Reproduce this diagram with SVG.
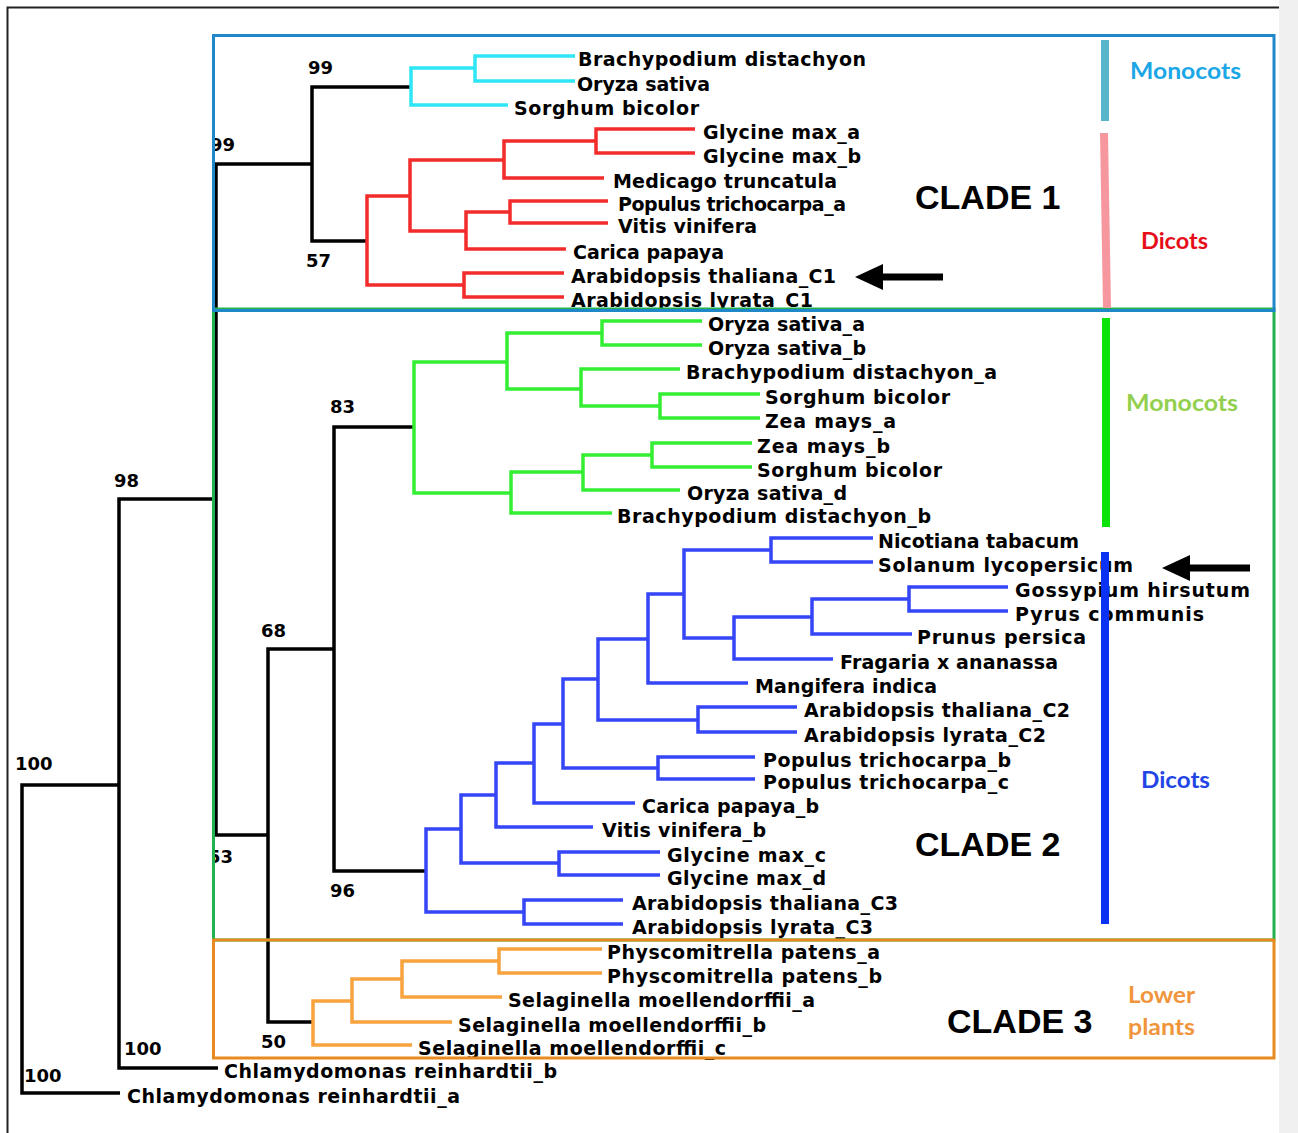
<svg xmlns="http://www.w3.org/2000/svg" width="1298" height="1133" viewBox="0 0 1298 1133">
<style>
.t{font-family:"DejaVu Sans","Liberation Sans",sans-serif;font-weight:bold;font-size:19px;fill:#000}
.bs{font-family:"DejaVu Sans","Liberation Sans",sans-serif;font-weight:bold;font-size:18px;fill:#000}
.cl{font-family:"Liberation Sans",Arial,sans-serif;font-weight:bold;font-size:34px;fill:#000}
.gp{font-family:Lato,"Open Sans",sans-serif;font-weight:bold;font-size:23px}
.br{fill:none;stroke-width:3.5;stroke-linejoin:miter;stroke-linecap:butt}
.k{stroke:#000}.c{stroke:#2EE6F5}.r{stroke:#F22B2B}.g{stroke:#33EE33}.b{stroke:#3546F7}.o{stroke:#F8A33E}
.box{fill:none;stroke-width:3}
.bar{fill:none;stroke-width:8}
</style>
<defs>
<clipPath id="clipBox"><rect x="215" y="0" width="200" height="1133"/></clipPath>
</defs>
<rect x="0" y="0" width="1298" height="1133" fill="#fff"/>
<rect x="1279" y="0" width="19" height="1133" fill="#F0F0F0"/>
<path d="M1279,7.5 H7.5 V1133" fill="none" stroke="#222" stroke-width="2"/>

<g id="connectors">
<g id="black-branches">
<path class="br k" d="M119,785 H22 V1093 H120"/>
<path class="br k" d="M216,499 H119 V1068 H218"/>
<path class="br k" d="M312,164 H216 V835 H268"/>
<path class="br k" d="M411,87 H312 V241 H367"/>
<path class="br k" d="M334,649 H268 V1022 H313"/>
<path class="br k" d="M414,427 H334 V871 H426"/>
</g>
<g id="cyan-branches">
<path class="br c" d="M475,68 H411 V105 H508"/>
<path class="br c" d="M575,56 H475 V81 H575"/>
</g>
<g id="red-branches">
<path class="br r" d="M410,196 H367 V285 H464"/>
<path class="br r" d="M504,160 H410 V231 H466"/>
<path class="br r" d="M596,141 H504 V178 H604"/>
<path class="br r" d="M695,129 H596 V153 H695"/>
<path class="br r" d="M510,212 H466 V249 H566"/>
<path class="br r" d="M608,201 H510 V223 H608"/>
<path class="br r" d="M564,273 H464 V297 H564"/>
</g>
<g id="green-branches">
<path class="br g" d="M507,362 H414 V493 H511"/>
<path class="br g" d="M602,333 H507 V389 H581"/>
<path class="br g" d="M702,321 H602 V345 H702"/>
<path class="br g" d="M680,369 H581 V406 H660"/>
<path class="br g" d="M760,394 H660 V418 H760"/>
<path class="br g" d="M583,472 H511 V513 H612"/>
<path class="br g" d="M652,455 H583 V490 H680"/>
<path class="br g" d="M752,443 H652 V467 H752"/>
</g>
<g id="blue-branches">
<path class="br b" d="M461,829 H426 V912 H524"/>
<path class="br b" d="M496,795 H461 V863 H559"/>
<path class="br b" d="M534,763 H496 V827 H593"/>
<path class="br b" d="M563,724 H534 V803 H635"/>
<path class="br b" d="M598,679 H563 V768 H658"/>
<path class="br b" d="M648,639 H598 V720 H698"/>
<path class="br b" d="M684,594 H648 V683 H748"/>
<path class="br b" d="M771,550 H684 V638 H734"/>
<path class="br b" d="M873,538 H771 V562 H873"/>
<path class="br b" d="M812,617 H734 V659 H833"/>
<path class="br b" d="M909,599 H812 V634 H912"/>
<path class="br b" d="M1008,587 H909 V611 H1008"/>
<path class="br b" d="M797,707 H698 V732 H797"/>
<path class="br b" d="M755,757 H658 V779 H755"/>
<path class="br b" d="M660,852 H559 V875 H660"/>
<path class="br b" d="M623,900 H524 V924 H623"/>
</g>
<g id="orange-branches">
<path class="br o" d="M352,1001 H313 V1045 H412"/>
<path class="br o" d="M402,979 H352 V1022 H452"/>
<path class="br o" d="M499,961 H402 V997 H502"/>
<path class="br o" d="M602,949 H499 V973 H602"/>
</g>
</g>

<g id="bootstrap">
<text class="bs" x="308" y="74">99</text>
<text class="bs" x="210" y="151" clip-path="url(#clipBox)">99</text>
<text class="bs" x="306" y="267">57</text>
<text class="bs" x="114" y="487">98</text>
<text class="bs" x="330" y="413">83</text>
<text class="bs" x="261" y="637">68</text>
<text class="bs" x="208" y="863" clip-path="url(#clipBox)">53</text>
<text class="bs" x="330" y="897">96</text>
<text class="bs" x="15" y="770">100</text>
<text class="bs" x="261" y="1048">50</text>
<text class="bs" x="124" y="1055">100</text>
<text class="bs" x="24" y="1082">100</text>
</g>

<g id="leaves">
<g id="n-bd1"><text class="t" x="578" y="66" textLength="288" lengthAdjust="spacing">Brachypodium distachyon</text></g>
<g id="n-os1"><text class="t" x="577" y="91" textLength="133" lengthAdjust="spacing">Oryza sativa</text></g>
<g id="n-sb1"><text class="t" x="514" y="115" textLength="185" lengthAdjust="spacing">Sorghum bicolor</text></g>
<g id="n-gma"><text class="t" x="703" y="139" textLength="157" lengthAdjust="spacing">Glycine max_a</text></g>
<g id="n-gmb"><text class="t" x="703" y="163" textLength="158" lengthAdjust="spacing">Glycine max_b</text></g>
<g id="n-med"><text class="t" x="613" y="188" textLength="224" lengthAdjust="spacing">Medicago truncatula</text></g>
<g id="n-pta"><text class="t" x="618" y="211" textLength="228" lengthAdjust="spacing">Populus trichocarpa_a</text></g>
<g id="n-vv"><text class="t" x="618" y="233" textLength="139" lengthAdjust="spacing">Vitis vinifera</text></g>
<g id="n-cp"><text class="t" x="573" y="259" textLength="151" lengthAdjust="spacing">Carica papaya</text></g>
<g id="n-atc1"><text class="t" x="571" y="283" textLength="265" lengthAdjust="spacing">Arabidopsis thaliana_C1</text></g>
<g id="n-alc1"><text class="t" x="571" y="307" textLength="242" lengthAdjust="spacing">Arabidopsis lyrata_C1</text></g>

<g id="n-osa"><text class="t" x="708" y="331" textLength="157" lengthAdjust="spacing">Oryza sativa_a</text></g>
<g id="n-osb"><text class="t" x="708" y="355" textLength="158" lengthAdjust="spacing">Oryza sativa_b</text></g>
<g id="n-bda"><text class="t" x="686" y="379" textLength="311" lengthAdjust="spacing">Brachypodium distachyon_a</text></g>
<g id="n-sb2"><text class="t" x="765" y="404" textLength="185" lengthAdjust="spacing">Sorghum bicolor</text></g>
<g id="n-zma"><text class="t" x="765" y="428" textLength="131" lengthAdjust="spacing">Zea mays_a</text></g>
<g id="n-zmb"><text class="t" x="757" y="453" textLength="133" lengthAdjust="spacing">Zea mays_b</text></g>
<g id="n-sb3"><text class="t" x="757" y="477" textLength="185" lengthAdjust="spacing">Sorghum bicolor</text></g>
<g id="n-osd"><text class="t" x="687" y="500" textLength="160" lengthAdjust="spacing">Oryza sativa_d</text></g>
<g id="n-bdb"><text class="t" x="617" y="523" textLength="314" lengthAdjust="spacing">Brachypodium distachyon_b</text></g>

<g id="n-nt"><text class="t" x="878" y="548" textLength="201" lengthAdjust="spacing">Nicotiana tabacum</text></g>
<g id="n-sl"><text class="t" x="878" y="572" textLength="255" lengthAdjust="spacing">Solanum lycopersicum</text></g>
<g id="n-gh"><text class="t" x="1015" y="597" textLength="235" lengthAdjust="spacing">Gossypium hirsutum</text></g>
<g id="n-pc"><text class="t" x="1015" y="621" textLength="189" lengthAdjust="spacing">Pyrus communis</text></g>
<g id="n-pp"><text class="t" x="917" y="644" textLength="169" lengthAdjust="spacing">Prunus persica</text></g>
<g id="n-fa"><text class="t" x="840" y="669" textLength="218" lengthAdjust="spacing">Fragaria x ananassa</text></g>
<g id="n-mi"><text class="t" x="755" y="693" textLength="182" lengthAdjust="spacing">Mangifera indica</text></g>
<g id="n-atc2"><text class="t" x="804" y="717" textLength="266" lengthAdjust="spacing">Arabidopsis thaliana_C2</text></g>
<g id="n-alc2"><text class="t" x="804" y="742" textLength="242" lengthAdjust="spacing">Arabidopsis lyrata_C2</text></g>
<g id="n-ptb"><text class="t" x="763" y="767" textLength="248" lengthAdjust="spacing">Populus trichocarpa_b</text></g>
<g id="n-ptc"><text class="t" x="763" y="789" textLength="246" lengthAdjust="spacing">Populus trichocarpa_c</text></g>
<g id="n-cpb"><text class="t" x="642" y="813" textLength="177" lengthAdjust="spacing">Carica papaya_b</text></g>
<g id="n-vvb"><text class="t" x="602" y="837" textLength="164" lengthAdjust="spacing">Vitis vinifera_b</text></g>
<g id="n-gmc"><text class="t" x="667" y="862" textLength="159" lengthAdjust="spacing">Glycine max_c</text></g>
<g id="n-gmd"><text class="t" x="667" y="885" textLength="159" lengthAdjust="spacing">Glycine max_d</text></g>
<g id="n-atc3"><text class="t" x="632" y="910" textLength="266" lengthAdjust="spacing">Arabidopsis thaliana_C3</text></g>
<g id="n-alc3"><text class="t" x="632" y="934" textLength="241" lengthAdjust="spacing">Arabidopsis lyrata_C3</text></g>

<g id="n-ppa"><text class="t" x="607" y="959" textLength="273" lengthAdjust="spacing">Physcomitrella patens_a</text></g>
<g id="n-ppb"><text class="t" x="607" y="983" textLength="275" lengthAdjust="spacing">Physcomitrella patens_b</text></g>
<g id="n-sma"><text class="t" x="508" y="1007" textLength="307" lengthAdjust="spacing">Selaginella moellendorffii_a</text></g>
<g id="n-smb"><text class="t" x="458" y="1032" textLength="308" lengthAdjust="spacing">Selaginella moellendorffii_b</text></g>
<g id="n-smc"><text class="t" x="418" y="1055" textLength="308" lengthAdjust="spacing">Selaginella moellendorffii_c</text></g>

<g id="n-crb"><text class="t" x="224" y="1078" textLength="333" lengthAdjust="spacing">Chlamydomonas reinhardtii_b</text></g>
<g id="n-cra"><text class="t" x="127" y="1103" textLength="333" lengthAdjust="spacing">Chlamydomonas reinhardtii_a</text></g>
</g>

<g id="clade-boxes">
<rect id="box-clade2" class="box" x="213.5" y="309" width="1060.5" height="631" stroke="#21B24F"/>
<rect id="box-clade3" class="box" x="213.5" y="940" width="1060.5" height="118" stroke="#E88A1F"/>
<rect id="box-clade1" class="box" x="213.5" y="35.5" width="1060.5" height="275" stroke="#1E88C9"/>
</g>

<g id="group-bars">
<path class="bar" d="M1105,40 V121" stroke="#5AB4CA"/>
<path class="bar" d="M1104,133 L1107,308" stroke="#F6979F"/>
<path class="bar" d="M1106,318 V527" stroke="#0BE30B"/>
<path class="bar" d="M1105,552 V924" stroke="#0B32F2"/>
</g>

<g id="group-labels">
<text class="gp" x="1130" y="79" fill="#1BA6E6" textLength="111" lengthAdjust="spacingAndGlyphs">Monocots</text>
<text class="gp" x="1141" y="249" fill="#E60D1A" textLength="67" lengthAdjust="spacingAndGlyphs">Dicots</text>
<text class="gp" x="1126" y="411" fill="#93CF4E" textLength="112" lengthAdjust="spacingAndGlyphs">Monocots</text>
<text class="gp" x="1141" y="788" fill="#2345E6" textLength="69" lengthAdjust="spacingAndGlyphs">Dicots</text>
<text class="gp" x="1128" y="1003" fill="#F0953C" style="font-size:22px" textLength="67" lengthAdjust="spacingAndGlyphs">Lower</text>
<text class="gp" x="1128" y="1035" fill="#F0953C" style="font-size:22px" textLength="67" lengthAdjust="spacingAndGlyphs">plants</text>
</g>

<g id="clade-labels">
<text class="cl" x="915" y="209">CLADE 1</text>
<text class="cl" x="915" y="856">CLADE 2</text>
<text class="cl" x="947" y="1033">CLADE 3</text>
</g>

<g id="arrows">
<g id="arrow-c1"><rect x="880" y="273.5" width="63" height="7" fill="#000"/><polygon points="855,277 883,264 883,290" fill="#000"/></g>
<g id="arrow-c2"><rect x="1188" y="564.5" width="62" height="7" fill="#000"/><polygon points="1162,568 1190,555 1190,581" fill="#000"/></g>
</g>
</svg>
